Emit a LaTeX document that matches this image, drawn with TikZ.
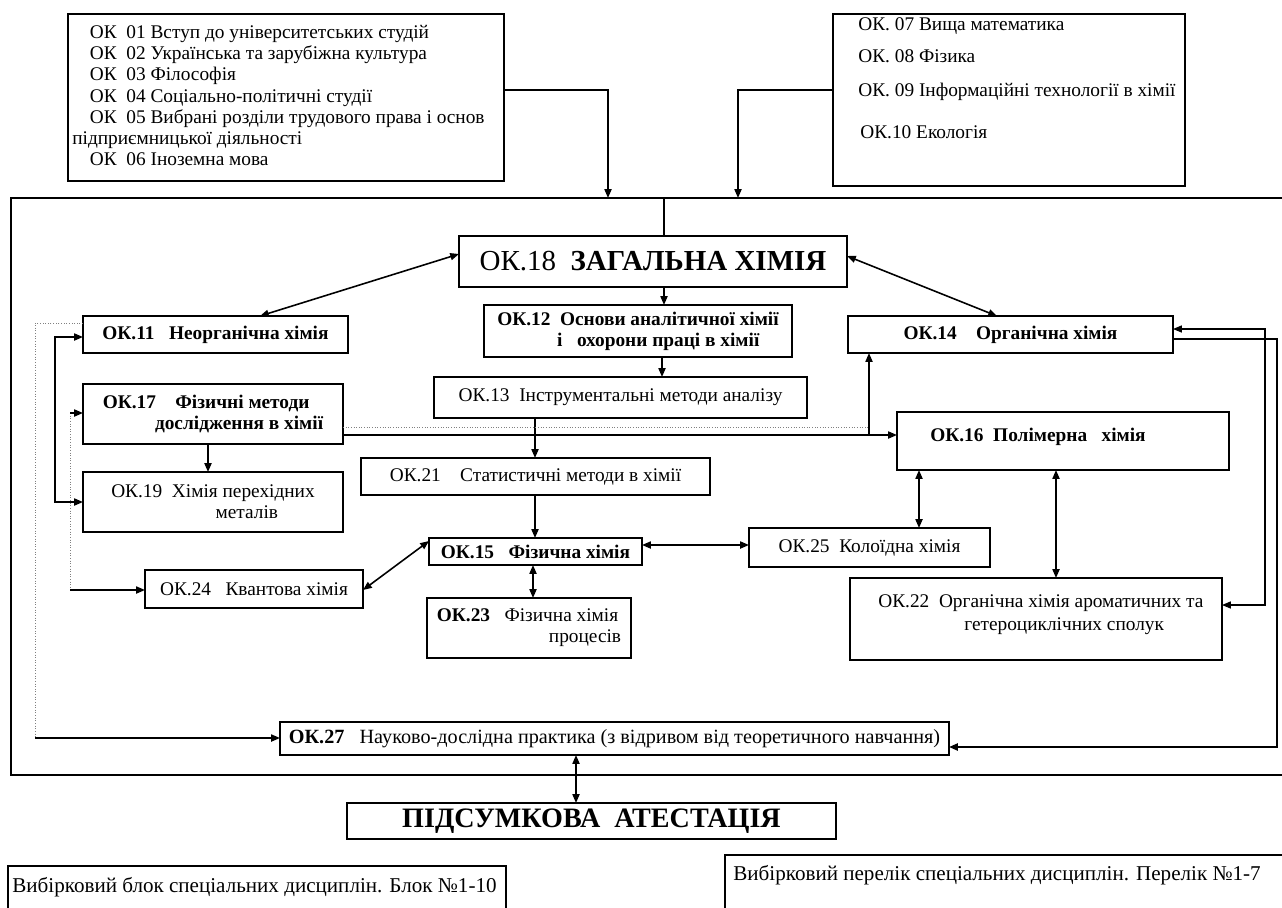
\documentclass[tikz,border=0pt]{standalone}
\usepackage{fontspec}
\setmainfont{Liberation Serif}
\usetikzlibrary{arrows.meta,fit}
\begin{document}
\begin{tikzpicture}[x=0.02cm,y=-0.02cm,
  box/.style={draw,line width=0.6pt,inner sep=0pt,outer sep=0pt},
  conn/.style={line width=0.9pt,-{Triangle[length=5pt,width=4pt]}},
  dconn/.style={line width=0.9pt,{Triangle[length=5pt,width=4pt]}-{Triangle[length=5pt,width=4pt]}},
  plain/.style={line width=0.9pt},
  faint/.style={gray,line width=0.5pt,densely dotted},
  t11/.style={inner sep=0pt,font=\fontsize{11}{12}\selectfont},
  b11/.style={inner sep=0pt,font=\fontsize{11}{12}\selectfont\bfseries},
]
\useasboundingbox (0,0) rectangle (1282,907);
\fill[white] (0,0) rectangle (1282,907);

% helper levels
\coordinate (y90) at (0,90);   \coordinate (ftop) at (0,198);
\coordinate (y254) at (0,254); \coordinate (y256) at (0,256);
\coordinate (y323) at (0,323); \coordinate (y329) at (0,329);
\coordinate (y337) at (0,337); \coordinate (y339) at (0,339);
\coordinate (y413) at (0,413); \coordinate (y427) at (0,427);
\coordinate (y435) at (0,435); \coordinate (y502) at (0,502);
\coordinate (y541) at (0,541); \coordinate (y545) at (0,545);
\coordinate (y590) at (0,590); \coordinate (y605) at (0,605);
\coordinate (y738) at (0,738); \coordinate (y747) at (0,747);
\coordinate (x35) at (35,0);   \coordinate (x55) at (55,0);
\coordinate (x70) at (70,0);   \coordinate (x208) at (208,0);
\coordinate (x260) at (260,0); \coordinate (x533) at (533,0);
\coordinate (x535) at (535,0); \coordinate (x576) at (576,0);
\coordinate (x608) at (608,0); \coordinate (x662) at (662,0);
\coordinate (x664) at (664,0); \coordinate (x738) at (738,0);
\coordinate (x869) at (869,0); \coordinate (x919) at (919,0);
\coordinate (x997) at (997,0); \coordinate (x1056) at (1056,0);
\coordinate (x1265) at (1265,0); \coordinate (x1277) at (1277,0);

% main frame
\draw[line width=1.2pt] (11,198) rectangle (1295,775);

% top boxes
\node[box,fit={(68,14) (504,181)}] (tl) {};
\node[t11,anchor=north west,align=left,font=\fontsize{11}{12.05}\selectfont] (tltext) at (72,25)
 {\hspace*{10pt}ОК\ \ 01 Вступ до університетських студій\\
  \hspace*{10pt}ОК\ \ 02 Українська та зарубіжна культура\\
  \hspace*{10pt}ОК\ \ 03 Філософія\\
  \hspace*{10pt}ОК\ \ 04 Соціально-політичні студії\\
  \hspace*{10pt}ОК\ \ 05 Вибрані розділи трудового права і основ\\
  підприємницької діяльності\\
  \hspace*{10pt}ОК\ \ 06 Іноземна мова};

\node[box,fit={(833,14) (1185,186)}] (tr) {};
\node[t11,anchor=west] (tr1) at (858,26) {ОК. 07 Вища математика};
\node[t11,anchor=west] (tr2) at (858,56) {ОК. 08 Фізика};
\node[t11,anchor=west] (tr3) at (858,92) {ОК. 09 Інформаційні технології в хімії};
\node[t11,anchor=west] (tr4) at (860,132) {ОК.10 Екологія};

\draw[conn] (tl.east |- y90) -| (x608 |- ftop);
\draw[conn] (tr.west |- y90) -| (x738 |- ftop);

% boxes
\node[box,fit={(459,236) (847,287)}] (ok18) {};
\node[inner sep=0pt,font=\fontsize{16.5}{18}\selectfont] (ok18t) at (ok18.center) {ОК.18\ \ \textbf{ЗАГАЛЬНА ХІМІЯ}};
\draw[plain] (x664 |- ftop) -- (ok18.north -| x664);

\node[box,fit={(83,316) (348,353)}] (ok11) {};
\node[b11] (ok11t) at (ok11.center) {ОК.11\ \ \ Неорганічна хімія};
\node[box,fit={(848,316) (1173,353)}] (ok14) {};
\node[b11] (ok14t) at (ok14.center) {ОК.14\ \ \ \ Органічна хімія};
\node[box,fit={(484,305) (792,357)}] (ok12) {};
\node[b11,align=left] (ok12t) at (ok12.center) {ОК.12\ \ Основи аналітичної хімії\\\hspace*{3.1em}і\ \ \ охорони праці в хімії};
\node[box,fit={(434,377) (807,418)}] (ok13) {};
\node[t11] (ok13t) at (ok13.center) {ОК.13\ \ Інструментальні методи аналізу};
\node[box,fit={(83,384) (343,444)}] (ok17) {};
\node[b11,align=left] (ok17t) at (ok17.center) {ОК.17\ \ \ \ Фізичні методи\\\hspace*{2.7em}дослідження в хімії};
\node[box,fit={(83,472) (343,532)}] (ok19) {};
\node[t11,align=left] (ok19t) at (ok19.center) {ОК.19\ \ Хімія перехідних\\\hspace*{5.4em}металів};
\node[box,fit={(361,458) (710,495)}] (ok21) {};
\node[t11] (ok21t) at (ok21.center) {ОК.21\ \ \ \ Статистичні методи в хімії};
\node[box,fit={(429,538) (642,565)}] (ok15) {};
\node[b11] (ok15t) at (ok15.center) {ОК.15\ \ \ Фізична хімія};
\node[box,fit={(145,570) (363,608)}] (ok24) {};
\node[t11] (ok24t) at (ok24.center) {ОК.24\ \ \ Квантова хімія};
\node[box,fit={(427,598) (631,658)}] (ok23) {};
\node[t11,align=left] (ok23t) at (ok23.center) {\textbf{ОК.23}\ \ \ Фізична хімія\\\hspace*{5.8em}процесів};
\node[box,fit={(897,412) (1229,470)}] (ok16) {};
\node[b11,anchor=west] (ok16t) at (930,437) {ОК.16\ \ Полімерна\ \ \ хімія};
\node[box,fit={(749,528) (990,567)}] (ok25) {};
\node[t11] (ok25t) at (ok25.center) {ОК.25\ \ Колоїдна хімія};
\node[box,fit={(850,578) (1222,660)}] (ok22) {};
\node[t11,anchor=west] (ok22a) at (878,603) {ОК.22\ \ Органічна хімія ароматичних та};
\node[t11,anchor=west] (ok22b) at (964,626) {гетероциклічних сполук};
\node[box,fit={(280,722) (949,755)}] (ok27) {};
\node[inner sep=0pt,font=\fontsize{11.5}{13}\selectfont] (ok27t) at (ok27.center) {\textbf{ОК.27}\ \ \ Науково-дослідна практика (з відривом від теоретичного навчання)};
\node[box,fit={(347,803) (836,839)}] (pa) {};
\node[inner sep=0pt,font=\fontsize{16}{18}\selectfont\bfseries] (pat) at (pa.center) {ПІДСУМКОВА\ \ АТЕСТАЦІЯ};

% bottom boxes
\node[box,fit={(8,866) (506,925)}] (bl) {};
\node[anchor=west,inner sep=0pt,font=\fontsize{12}{14}\selectfont] (blt) at (12,887) {Вибірковий блок спеціальних дисциплін. Блок №1-10};
\node[box,fit={(725,855) (1300,925)}] (br) {};
\node[anchor=west,inner sep=0pt,font=\fontsize{12}{14}\selectfont] (brt) at (733,875) {Вибірковий перелік спеціальних дисциплін. Перелік №1-7};

% connectors
\draw[dconn] (ok18.west |- y254) -- (ok11.north -| x260);
\draw[dconn] (ok18.east |- y256) -- (ok14.north -| x997);
\draw[conn] (ok18.south -| x664) -- (ok12.north -| x664);
\draw[conn] (ok12.south -| x662) -- (ok13.north -| x662);
\draw[conn] (ok13.south -| x535) -- (ok21.north -| x535);
\draw[conn] (ok21.south -| x535) -- (ok15.north -| x535);
\draw[conn] (ok17.south -| x208) -- (ok19.north -| x208);
\draw[dconn] (ok15.west |- y541) -- (ok24.east |- y590);
\draw[dconn] (ok15.south -| x533) -- (ok23.north -| x533);
\draw[dconn] (ok15.east |- y545) -- (ok25.west |- y545);
\draw[dconn] (ok16.south -| x919) -- (ok25.north -| x919);
\draw[dconn] (ok16.south -| x1056) -- (ok22.north -| x1056);
\draw[dconn] (ok27.south -| x576) -- (pa.north -| x576);

% middle horizontal
\draw[faint] (ok17.east |- y427) -- (x869 |- y427);
\draw[conn] (ok17.east |- y435) -- (ok16.west |- y435);
\draw[conn] (x869 |- y435) -- (ok14.south -| x869);

% right side
\draw[line width=0.6pt,{Triangle[length=5pt,width=4pt]}-{Triangle[length=5pt,width=4pt]}] (ok14.east |- y329) -| (x1265 |- y605) -- (ok22.east |- y605);
\draw[line width=1.1pt,-{Triangle[length=5pt,width=4pt]}] (ok14.east |- y339) -| (x1277 |- y747) -- (ok27.east |- y747);

% left side
\draw[dconn] (ok11.west |- y337) -| (x55 |- y502) -- (ok19.west |- y502);
\draw[faint] (x70 |- y413) -- (x70 |- y590);
\draw[conn] (x70 |- y413) -- (ok17.west |- y413);
\draw[conn] (x70 |- y590) -- (ok24.west |- y590);
\draw[faint] (ok11.west |- y323) -| (x35 |- y738);
\draw[conn] (x35 |- y738) -- (ok27.west |- y738);
\end{tikzpicture}
\end{document}
